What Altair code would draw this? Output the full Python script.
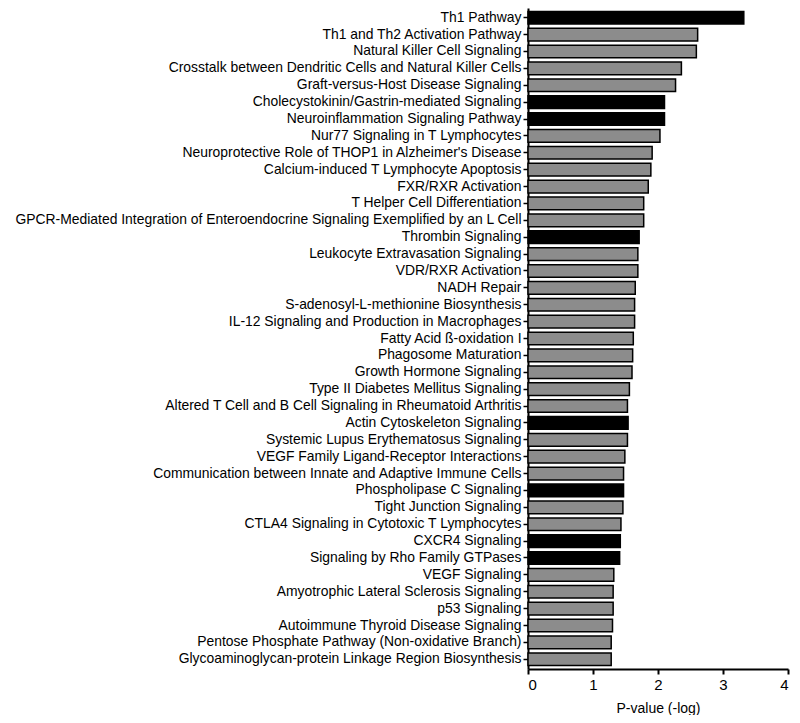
import altair as alt
import pandas as pd

pathways = [
    "Th1 Pathway",
    "Th1 and Th2 Activation Pathway",
    "Natural Killer Cell Signaling",
    "Crosstalk between Dendritic Cells and Natural Killer Cells",
    "Graft-versus-Host Disease Signaling",
    "Cholecystokinin/Gastrin-mediated Signaling",
    "Neuroinflammation Signaling Pathway",
    "Nur77 Signaling in T Lymphocytes",
    "Neuroprotective Role of THOP1 in Alzheimer's Disease",
    "Calcium-induced T Lymphocyte Apoptosis",
    "FXR/RXR Activation",
    "T Helper Cell Differentiation",
    "GPCR-Mediated Integration of Enteroendocrine Signaling Exemplified by an L Cell",
    "Thrombin Signaling",
    "Leukocyte Extravasation Signaling",
    "VDR/RXR Activation",
    "NADH Repair",
    "S-adenosyl-L-methionine Biosynthesis",
    "IL-12 Signaling and Production in Macrophages",
    "Fatty Acid ß-oxidation I",
    "Phagosome Maturation",
    "Growth Hormone Signaling",
    "Type II Diabetes Mellitus Signaling",
    "Altered T Cell and B Cell Signaling in Rheumatoid Arthritis",
    "Actin Cytoskeleton Signaling",
    "Systemic Lupus Erythematosus Signaling",
    "VEGF Family Ligand-Receptor Interactions",
    "Communication between Innate and Adaptive Immune Cells",
    "Phospholipase C Signaling",
    "Tight Junction Signaling",
    "CTLA4 Signaling in Cytotoxic T Lymphocytes",
    "CXCR4 Signaling",
    "Signaling by Rho Family GTPases",
    "VEGF Signaling",
    "Amyotrophic Lateral Sclerosis Signaling",
    "p53 Signaling",
    "Autoimmune Thyroid Disease Signaling",
    "Pentose Phosphate Pathway (Non-oxidative Branch)",
    "Glycoaminoglycan-protein Linkage Region Biosynthesis",
]

neg_log_p = [
    3.32, 2.61, 2.59, 2.36, 2.27, 2.10, 2.10, 2.03, 1.91, 1.89,
    1.85, 1.78, 1.78, 1.71, 1.69, 1.69, 1.65, 1.64, 1.64, 1.62,
    1.61, 1.60, 1.56, 1.53, 1.54, 1.53, 1.49, 1.47, 1.47, 1.46,
    1.43, 1.42, 1.41, 1.32, 1.31, 1.31, 1.30, 1.28, 1.28,
]

highlighted = [
    "Th1 Pathway",
    "Cholecystokinin/Gastrin-mediated Signaling",
    "Neuroinflammation Signaling Pathway",
    "Thrombin Signaling",
    "Actin Cytoskeleton Signaling",
    "Phospholipase C Signaling",
    "CXCR4 Signaling",
    "Signaling by Rho Family GTPases",
]

x_ticks = [0, 1, 2, 3, 4]

df = pd.DataFrame({
    "pathway": pathways,
    "value": neg_log_p,
    "group": ["highlight" if p in highlighted else "other" for p in pathways],
})

FONT = "Liberation Sans"

chart = alt.Chart(df).mark_bar(stroke="black", strokeWidth=1.5).encode(
    y=alt.Y(
        "pathway:N",
        sort=pathways,
        title=None,
        scale=alt.Scale(paddingInner=0.25, paddingOuter=0.2),
        axis=alt.Axis(
            labelFont=FONT, labelFontSize=13.9, labelColor="black",
            labelLimit=600, labelPadding=2,
            tickSize=5, tickWidth=1.5, tickColor="black",
            domainColor="black", domainWidth=2, grid=False,
        ),
    ),
    x=alt.X(
        "value:Q",
        title="P-value (-log)",
        scale=alt.Scale(domain=[0, 4], nice=False),
        axis=alt.Axis(
            values=x_ticks, format="d",
            labelFont=FONT, labelFontSize=15, labelColor="black",
            labelPadding=3,
            tickSize=5, tickWidth=2, tickColor="black",
            domainColor="black", domainWidth=2, grid=False,
            titleFont=FONT, titleFontSize=14, titleFontWeight="normal",
            titleColor="black", titleY=43, titleBaseline="alphabetic",
        ),
    ),
    color=alt.Color(
        "group:N",
        scale=alt.Scale(domain=["highlight", "other"], range=["#000000", "#8c8c8c"]),
        legend=None,
    ),
).properties(
    width=260,
    height=661,
    autosize=alt.AutoSizeParams(type="none"),
    padding={"left": 520, "top": 0, "right": 4, "bottom": 46},
).configure_view(stroke=None)

chart.save("out.html", embed_options={"renderer": "svg", "actions": False})
